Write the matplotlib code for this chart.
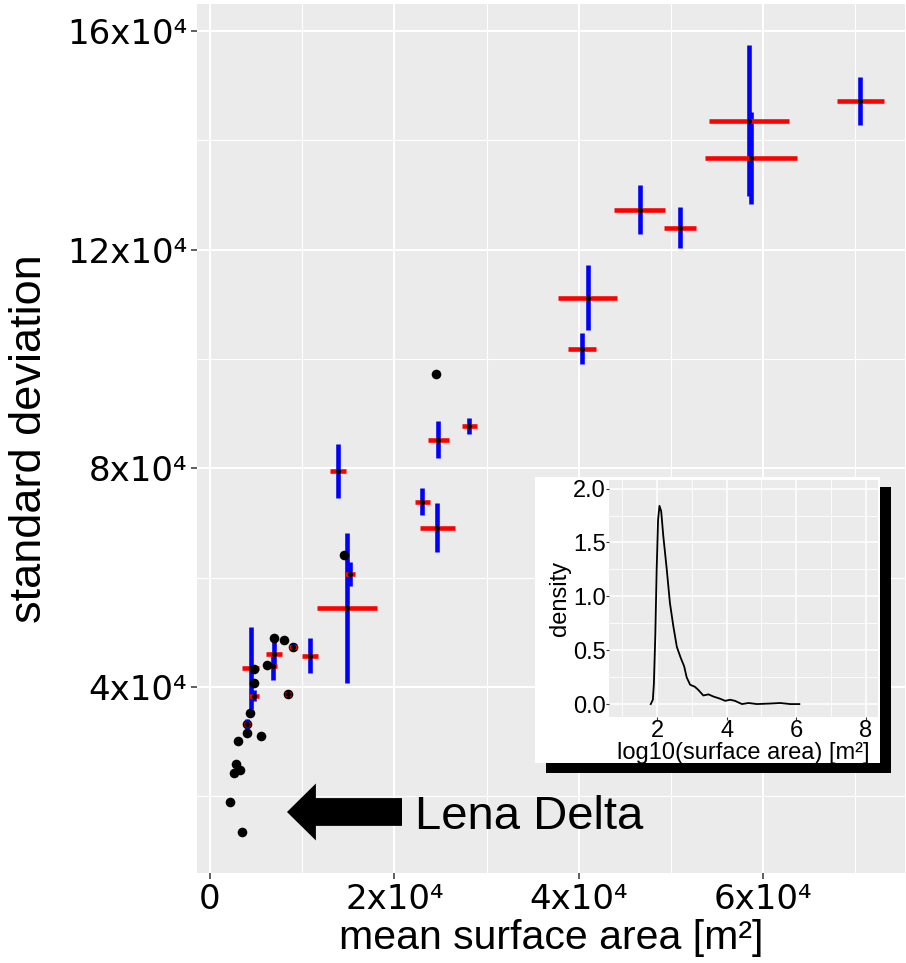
import matplotlib
matplotlib.use("Agg")
import matplotlib.pyplot as plt
from matplotlib.patches import Rectangle
from matplotlib.ticker import MultipleLocator

# single lakes (black dots)
lake_x = [14570, 24570, 6960, 8040, 6200, 4780, 4780, 4350, 4000, 5540,
          3040, 2830, 3260, 2610, 2170, 3480, 48900]
lake_y = [64200, 97300, 49000, 48650, 44080, 43350, 40800, 35300, 31640, 31090,
          30180, 25970, 24870, 24330, 19020, 13530, 77300]

# lakes that sit under small error bars
under_x = [4000, 9020, 8480]
under_y = [33300, 47370, 38780]

# grouped means with spread
mean_x = [4400, 4780, 4000, 6960, 6850, 9020, 8480, 10870, 14890, 15220, 13910,
          24780, 28150, 23040, 24670, 40330, 40980, 46630, 50980, 58480, 58700, 70550]
mean_y = [43400, 38400, 33300, 46100, 43900, 47370, 38780, 45720, 54500, 60720, 79560,
          85230, 87800, 73890, 69140, 101900, 111200, 127300, 124000, 143600, 136800, 147200]
err_x = [950, 540, 350, 850, 400, 430, 300, 900, 3260, 540, 870,
         1160, 780, 820, 1870, 1540, 3190, 2770, 1780, 4350, 4960, 2540]
err_y = [7500, 1000, 900, 2560, 2560, 430, 500, 3200, 13700, 2200, 4940,
         3400, 1460, 2440, 4480, 2900, 5950, 4480, 3720, 13870, 8400, 4360]

x_ticks = [0, 20000, 40000, 60000]
x_labels = ["0", "2x10⁴", "4x10⁴", "6x10⁴"]
y_ticks = [40000, 80000, 120000, 160000]
y_labels = ["4x10⁴", "8x10⁴", "12x10⁴", "16x10⁴"]

# inset: density of log10 surface area
dens_x = [1.82, 1.88, 1.91, 1.95, 1.99, 2.03, 2.07, 2.12, 2.18, 2.28, 2.37, 2.47, 2.57,
          2.68, 2.78, 2.85, 2.95, 3.09, 3.19, 3.33, 3.48, 3.62, 3.81, 3.96, 4.10, 4.24,
          4.44, 4.63, 4.87, 5.25, 5.54, 5.83, 6.09]
dens_y = [0.0, 0.04, 0.19, 0.63, 1.25, 1.71, 1.84, 1.79, 1.56, 1.25, 0.94, 0.72, 0.53,
          0.43, 0.35, 0.25, 0.18, 0.16, 0.13, 0.08, 0.09, 0.07, 0.05, 0.03, 0.04, 0.03,
          0.0, 0.01, 0.0, 0.005, 0.01, 0.0, 0.0]

W, H = 906, 963


def fx(px):
    return px / W


def fy(py):
    return 1 - py / H


fig = plt.figure(figsize=(W / 100, H / 100), dpi=100)
ax = fig.add_axes([fx(197), fy(873), fx(905) - fx(197), fy(4) - fy(873)])
ax.set_facecolor("#EBEBEB")
for s in ax.spines.values():
    s.set_visible(False)

ax.scatter(under_x, under_y, s=48, color="black", zorder=2, linewidths=0)
ax.errorbar(mean_x, mean_y, yerr=err_y, fmt="none", ecolor="blue", elinewidth=3.3, zorder=3)
ax.errorbar(mean_x, mean_y, xerr=err_x, fmt="none", ecolor="red", elinewidth=3.3, zorder=4)
ax.scatter(mean_x, mean_y, s=14, color="black", zorder=5, linewidths=0)
ax.scatter(lake_x, lake_y, s=48, color="black", zorder=6, linewidths=0)

ax.set_xlim(-1410, 75400)
ax.set_ylim(5980, 164940)
ax.set_xticks(x_ticks)
ax.set_xticklabels(x_labels)
ax.set_yticks(y_ticks)
ax.set_yticklabels(y_labels)
ax.xaxis.set_minor_locator(MultipleLocator(10000))
ax.yaxis.set_minor_locator(MultipleLocator(20000))
ax.grid(which="major", color="white", lw=1.5)
ax.grid(which="minor", color="white", lw=0.8)
ax.set_axisbelow(True)
ax.tick_params(which="minor", length=0)
ax.tick_params(which="major", length=4, width=1.1, color="#333333", labelsize=24.5,
               labelcolor="black", pad=3)
ax.set_xlabel("mean surface area [m²]", fontsize=29.5, family="Liberation Sans", labelpad=2)
ax.set_ylabel("standard deviation", fontsize=32.5, family="Liberation Sans", labelpad=12)

# Lena Delta arrow
ax.annotate("", xy=(8354, 17140), xytext=(20830, 17140),
            arrowprops=dict(arrowstyle="simple,head_length=1.04,head_width=2.05,tail_width=1.0",
                            fc="black", ec="none", mutation_scale=20, shrinkA=0, shrinkB=0))
ax.text(22240, 14030, "Lena Delta", fontsize=34, family="Liberation Sans", va="baseline")

# inset box with shadow
bw = fx(880) - fx(535)
bh = fy(477) - fy(763)
shadow = Rectangle((fx(546), fy(773)), bw, bh, transform=fig.transFigure,
                   fc="black", ec="none", zorder=1)
box = Rectangle((fx(535), fy(763)), bw, bh, transform=fig.transFigure,
                fc="white", ec="none", zorder=2)
fig.patches.extend([shadow, box])

ins = fig.add_axes([fx(609), fy(717), fx(878) - fx(609), fy(480) - fy(717)])
ins.set_zorder(3)
ins.set_facecolor("#EBEBEB")
for s in ins.spines.values():
    s.set_visible(False)
ins.plot(dens_x, dens_y, color="black", lw=1.3)
ins.set_xlim(0.62, 8.35)
ins.set_ylim(-0.12, 2.08)
ins.set_xticks([2, 4, 6, 8])
ins.set_yticks([0, 0.5, 1.0, 1.5, 2.0])
ins.set_yticklabels(["0.0", "0.5", "1.0", "1.5", "2.0"])
ins.xaxis.set_minor_locator(MultipleLocator(1))
ins.yaxis.set_minor_locator(MultipleLocator(0.25))
ins.grid(which="major", color="white", lw=1.1)
ins.grid(which="minor", color="white", lw=0.6)
ins.set_axisbelow(True)
ins.tick_params(which="minor", length=0)
ins.tick_params(which="major", length=2, width=0.8, color="#333333", labelsize=17,
                labelcolor="black", pad=0.5)
for lab in ins.get_xticklabels() + ins.get_yticklabels():
    lab.set_family("Liberation Sans")
ins.set_xlabel("log10(surface area) [m²]", fontsize=17, family="Liberation Sans", labelpad=0)
ins.set_ylabel("density", fontsize=17, family="Liberation Sans", labelpad=1)

fig.savefig("out.png", dpi=100)
